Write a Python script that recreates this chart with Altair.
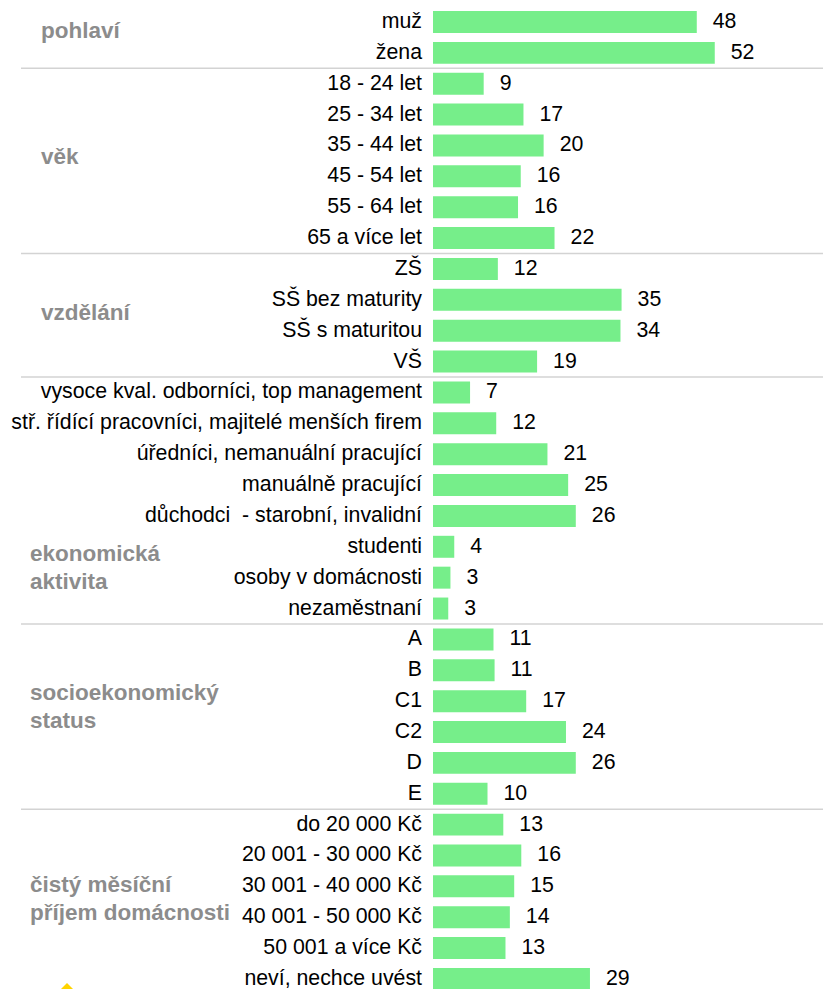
import altair as alt
import pandas as pd

# ---- data ----
group_names = ["pohlaví", "věk", "vzdělání", "ekonomická\naktivita",
               "socioekonomický\nstatus", "čistý měsíční\npříjem domácnosti"]

cats_pohlavi = ["muž", "žena"]
vals_pohlavi = [48.4, 51.7]

cats_vek = ["18 - 24 let", "25 - 34 let", "35 - 44 let", "45 - 54 let", "55 - 64 let", "65 a více let"]
vals_vek = [9.3, 16.6, 20.3, 16.1, 15.6, 22.3]

cats_vzdelani = ["ZŠ", "SŠ bez maturity", "SŠ s maturitou", "VŠ"]
vals_vzdelani = [11.9, 34.6, 34.4, 19.1]

cats_ekon = ["vysoce kval. odborníci, top management",
             "stř. řídící pracovníci, majitelé menších firem",
             "úředníci, nemanuální pracující", "manuálně pracující",
             "důchodci \u00a0- starobní, invalidní", "studenti",
             "osoby v domácnosti", "nezaměstnaní"]
vals_ekon = [6.8, 11.6, 21.0, 24.8, 26.2, 3.9, 3.2, 2.8]

cats_socio = ["A", "B", "C1", "C2", "D", "E"]
vals_socio = [11.1, 11.3, 17.1, 24.4, 26.2, 10.0]

cats_prijem = ["do 20 000 Kč", "20 001 - 30 000 Kč", "30 001 - 40 000 Kč",
               "40 001 - 50 000 Kč", "50 001 a více Kč", "neví, nechce uvést"]
vals_prijem = [12.9, 16.2, 14.9, 14.1, 13.3, 28.8]

all_cats = [cats_pohlavi, cats_vek, cats_vzdelani, cats_ekon, cats_socio, cats_prijem]
all_vals = [vals_pohlavi, vals_vek, vals_vzdelani, vals_ekon, vals_socio, vals_prijem]

# ---- styles ----
FONT = "Liberation Sans"
GREEN = "#76ee8a"
GRAY = "#8c8c8c"
SEP = "#d3d3d3"
# vertical nudge of group titles (in rows) relative to group middle
label_nudge = [-0.21, -0.13, -0.07, 2.14, -0.34, -0.12]

rows, seps, glabels = [], [], []
r = 0
for gi, (g, cats, vals) in enumerate(zip(group_names, all_cats, all_vals)):
    start = r
    for c, v in zip(cats, vals):
        rows.append({"cat": c, "value": v, "r": r})
        r += 1
    end = r - 1
    if gi > 0:
        seps.append({"b": start - 0.5})
    glabels.append({"g": g, "gy": (start + end) / 2 + label_nudge[gi],
                    "multi": "\n" in g})

df = pd.DataFrame(rows)
sep_df = pd.DataFrame(seps)
gl_df = pd.DataFrame(glabels)

W, H = 380, 990
STEP = 30.87
d0 = -14 / STEP
X_SCALE = alt.Scale(domain=[0, W / 5.45], nice=False, zero=True)
Y_SCALE = alt.Scale(domain=[d0, d0 + H / STEP], reverse=True, nice=False, zero=False)

bars = alt.Chart(df).transform_calculate(
    y0="datum.r - 0.356", y1="datum.r + 0.356"
).mark_bar(color=GREEN).encode(
    x=alt.X("value:Q", scale=X_SCALE, axis=None),
    x2=alt.datum(0),
    y=alt.Y("y0:Q", scale=Y_SCALE, axis=None),
    y2="y1:Q",
)

values = alt.Chart(df).mark_text(
    align="left", baseline="middle", dx=16, fontSize=21.3, font=FONT, color="#000000"
).encode(
    x=alt.X("value:Q", scale=X_SCALE, axis=None),
    y=alt.Y("r:Q", scale=Y_SCALE, axis=None),
    text=alt.Text("value:Q", format=".0f"),
)

cat_labels = alt.Chart(df).mark_text(
    align="right", baseline="middle", fontSize=21.3, font=FONT, color="#000000"
).encode(
    x=alt.value(-11),
    y=alt.Y("r:Q", scale=Y_SCALE, axis=None),
    text="cat:N",
)

separators = alt.Chart(sep_df).mark_rule(color=SEP, strokeWidth=1.5).encode(
    y=alt.Y("b:Q", scale=Y_SCALE, axis=None),
    x=alt.value(-412),
    x2=alt.value(W + 10),
)

gl_single = alt.Chart(gl_df).transform_filter("!datum.multi").mark_text(
    align="left", baseline="middle", fontSize=22.5, fontWeight="bold", font=FONT, color=GRAY
).encode(
    x=alt.value(-392),
    y=alt.Y("gy:Q", scale=Y_SCALE, axis=None),
    text="g:N",
)

gl_multi = alt.Chart(gl_df).transform_filter("datum.multi").mark_text(
    align="left", baseline="middle", fontSize=22.5, fontWeight="bold", font=FONT, color=GRAY,
    lineBreak="\n", lineHeight=28, dy=-13
).encode(
    x=alt.value(-403),
    y=alt.Y("gy:Q", scale=Y_SCALE, axis=None),
    text="g:N",
)

logo = alt.Chart(pd.DataFrame({"k": [0]})).mark_point(
    shape="diamond", filled=True, color="#ffd400", size=1600, opacity=1
).encode(x=alt.value(-366), y=alt.value(995))

chart = alt.layer(separators, bars, values, cat_labels, gl_single, gl_multi, logo).properties(
    width=W, height=H,
    padding={"left": 425, "top": 0, "right": 10, "bottom": 0},
    autosize=alt.AutoSizeParams(type="none"),
    background="white",
).configure_view(stroke=None)

chart.save("out.html", embed_options={"renderer": "svg", "actions": False})
